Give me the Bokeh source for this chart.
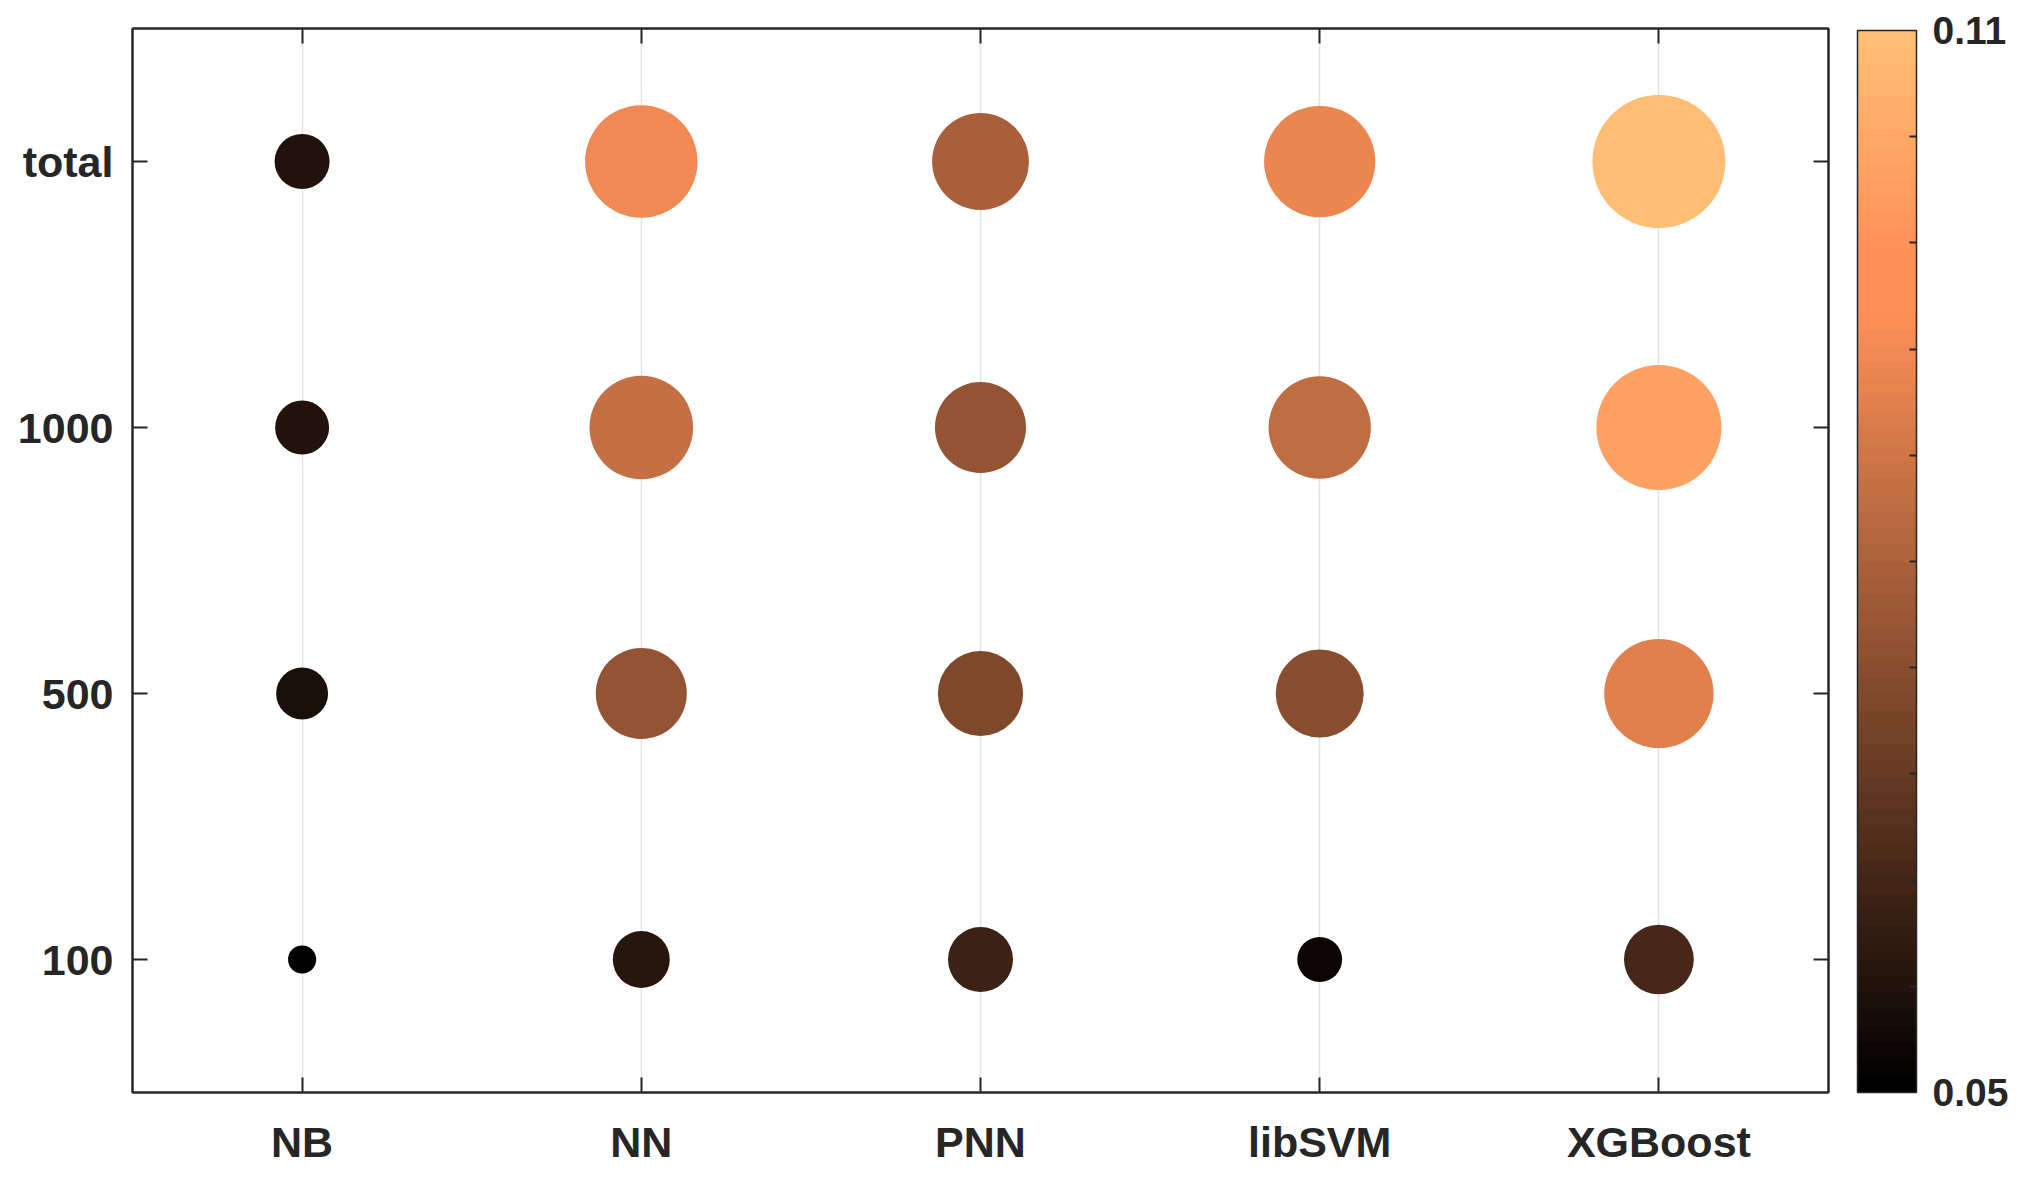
import math
import colorsys
from bokeh.plotting import figure
from bokeh.models import (ColumnDataSource, LinearColorMapper, ColorBar, FixedTicker,
                          PrintfTickFormatter, CategoricalAxis, FactorRange)
from bokeh.embed import file_html
from bokeh.resources import INLINE

# ---------------- data ----------------
methods = ["NB", "NN", "PNN", "libSVM", "XGBoost"]
sample_sizes = ["100", "500", "1000", "total"]          # bottom -> top

# values per method, in the order of sample_sizes
NB = [0.048, 0.055, 0.0558, 0.0562]
NN = [0.057, 0.0755, 0.0845, 0.0915]
PNN = [0.0606, 0.0718, 0.0755, 0.0795]
libSVM = [0.0525, 0.0735, 0.0835, 0.0905]
XGBoost = [0.063, 0.089, 0.1025, 0.110]

cbar_low, cbar_high = 0.05, 0.11
cbar_labels = [0.05, 0.11]
cbar_minor = [0.056, 0.062, 0.068, 0.074, 0.080, 0.086, 0.092, 0.098, 0.104]

# ---------------- build ----------------
series = {"NB": NB, "NN": NN, "PNN": PNN, "libSVM": libSVM, "XGBoost": XGBoost}
xs, ys, vs = [], [], []
for m in methods:
    for s, v in zip(sample_sizes, series[m]):
        xs.append(m)
        ys.append(s)
        vs.append(v)

# bubble area grows linearly with the value
AREA_PER_UNIT = 272500.0
AREA_OFFSET = 0.0451
sizes = [math.sqrt(max(AREA_PER_UNIT * (v - AREA_OFFSET), 1.0)) for v in vs]

src = ColumnDataSource(dict(x=xs, y=ys, v=vs, size=sizes))

# "copper" colormap, 64 levels (slightly warmer, as rendered in the reference)
copper = []
for i in range(64):
    t = i / 63
    r, g, b = min(1.0, 1.25 * t), 0.7812 * t, 0.4975 * t
    h, s, v = colorsys.rgb_to_hsv(r, g, b)
    h = max(0.0, h - 2.0 / 360.0)
    s = min(1.0, s * 1.09)
    v = min(1.0, v * 1.08)
    r, g, b = colorsys.hsv_to_rgb(h, s, v)
    copper.append("#%02x%02x%02x" % (round(r * 255), round(g * 255), round(b * 255)))

mapper = LinearColorMapper(palette=copper, low=cbar_low, high=cbar_high)

TXT = "#262626"
FONT = "Liberation Sans"

p = figure(x_range=FactorRange(*methods), y_range=FactorRange(*sample_sizes),
           width=2019, height=1182, output_backend="svg", toolbar_location=None,
           min_border_left=132, min_border_right=191, min_border_top=28, min_border_bottom=90)

p.outline_line_color = TXT
p.outline_line_width = 2
p.background_fill_color = "white"
p.border_fill_color = "white"

p.xgrid.grid_line_color = "#e2e2e2"
p.xgrid.grid_line_width = 1.5
p.ygrid.grid_line_color = None

for ax in (p.xaxis[0], p.yaxis[0]):
    ax.major_tick_in = 15
    ax.major_tick_out = 0
    ax.major_tick_line_color = TXT
    ax.major_tick_line_width = 2
    ax.axis_line_color = TXT
    ax.axis_line_width = 2
    ax.major_label_text_font = FONT
    ax.major_label_text_font_style = "bold"
    ax.major_label_text_font_size = "43px"
    ax.major_label_text_color = TXT
p.xaxis.major_label_standoff = 25
p.yaxis.major_label_standoff = 19

# box ticks on top and right (no labels)
for loc in ("above", "right"):
    ax = CategoricalAxis(major_tick_in=15, major_tick_out=0, major_tick_line_color=TXT,
                         major_tick_line_width=2, axis_line_color=TXT, axis_line_width=2,
                         major_label_text_color=None, major_label_text_font_size="1px",
                         major_label_standoff=0)
    p.add_layout(ax, loc)

p.scatter(x="x", y="y", size="size", source=src, marker="circle",
          fill_color={"field": "v", "transform": mapper}, line_color=None)

cb = ColorBar(color_mapper=mapper, width=59, height=1062, location=(29, 0),
              margin=0, padding=0,
              ticker=FixedTicker(ticks=cbar_labels, minor_ticks=cbar_minor),
              formatter=PrintfTickFormatter(format="%.2f"),
              major_label_text_font=FONT, major_label_text_font_style="bold",
              major_label_text_font_size="39px", major_label_text_color=TXT,
              label_standoff=16,
              major_tick_line_color=None,
              minor_tick_line_color=TXT, minor_tick_line_width=2,
              minor_tick_in=7, minor_tick_out=0,
              bar_line_color=TXT, bar_line_width=1.5,
              border_line_color=None, background_fill_color=None)
p.add_layout(cb, "right")

open("out.html", "w").write(file_html(p, INLINE))
